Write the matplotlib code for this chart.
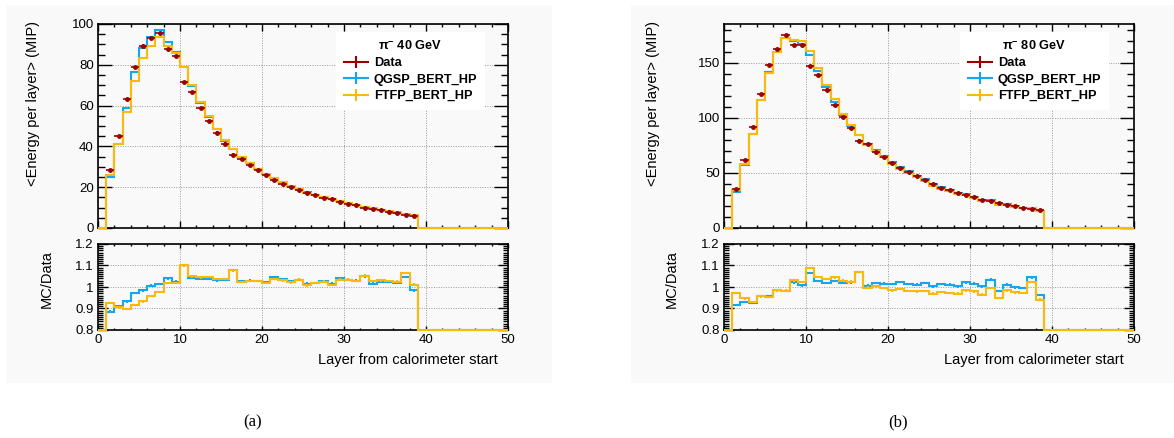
import numpy as np
import matplotlib
matplotlib.use('Agg')
import matplotlib.pyplot as plt
from matplotlib.lines import Line2D
from matplotlib.patches import Rectangle
from matplotlib.ticker import MultipleLocator, FuncFormatter

plt.rcParams['font.family'] = ['Liberation Sans', 'DejaVu Sans']

W, H = 1174, 438

# layers 1..38 are filled, everything else is empty
first_layer = 1
n_bins = 50

data_40 = [28.3, 45.2, 63.2, 78.7, 89.4, 93.0, 95.7, 87.6, 84.3, 71.7,
           66.8, 58.9, 52.4, 46.8, 41.4, 36.0, 34.0, 30.9, 28.3, 25.9,
           23.4, 21.8, 20.1, 18.5, 17.3, 16.0, 14.9, 14.1, 12.9, 11.9,
           11.1, 10.0, 9.3, 8.7, 8.0, 7.4, 6.5, 6.1]
qgsp_40 = [25.1, 41.2, 59.0, 76.5, 88.0, 93.6, 97.0, 91.1, 86.4, 78.9,
           69.6, 61.1, 54.3, 48.3, 42.8, 38.8, 34.9, 31.8, 29.1, 26.5,
           24.5, 22.6, 20.6, 19.1, 17.6, 16.3, 15.3, 14.3, 13.4, 12.3,
           11.4, 10.5, 9.4, 8.9, 8.2, 7.5, 6.8, 6.0]
ftfp_40 = [26.2, 41.0, 56.7, 72.2, 83.4, 89.2, 93.5, 89.3, 85.9, 78.9,
           70.1, 61.6, 54.9, 48.5, 42.9, 38.8, 34.8, 31.7, 29.1, 26.4,
           24.3, 22.5, 20.5, 19.1, 17.4, 16.3, 15.3, 14.2, 13.3, 12.3,
           11.4, 10.5, 9.6, 9.0, 8.2, 7.6, 6.9, 6.2]
ratio_qgsp_40 = [0.886, 0.912, 0.933, 0.972, 0.984, 1.006, 1.014, 1.040, 1.025, 1.100,
                 1.042, 1.037, 1.037, 1.031, 1.034, 1.078, 1.027, 1.030, 1.027, 1.022,
                 1.047, 1.037, 1.027, 1.034, 1.016, 1.019, 1.028, 1.016, 1.042, 1.034,
                 1.030, 1.050, 1.016, 1.025, 1.023, 1.019, 1.047, 0.984]
ratio_ftfp_40 = [0.925, 0.906, 0.897, 0.917, 0.933, 0.959, 0.977, 1.019, 1.019, 1.100,
                 1.050, 1.045, 1.047, 1.037, 1.037, 1.078, 1.023, 1.027, 1.027, 1.019,
                 1.037, 1.031, 1.022, 1.034, 1.008, 1.019, 1.025, 1.009, 1.034, 1.034,
                 1.027, 1.053, 1.027, 1.031, 1.027, 1.025, 1.066, 1.011]

data_80 = [35.4, 61.5, 91.8, 121.5, 147.9, 162.3, 174.9, 165.6, 165.6, 147.0,
           138.3, 125.4, 111.6, 100.8, 90.9, 79.2, 75.9, 69.3, 64.5, 58.8,
           54.3, 51.0, 46.8, 43.5, 39.6, 36.3, 34.5, 31.5, 30.0, 27.9,
           25.5, 24.3, 22.5, 21.3, 19.8, 18.3, 17.4, 15.9]
qgsp_80 = [32.5, 57.2, 84.9, 116.5, 141.8, 159.7, 171.9, 169.2, 166.9, 156.7,
           142.0, 127.8, 114.6, 102.7, 92.9, 84.7, 76.4, 70.6, 65.5, 59.6,
           55.5, 51.7, 47.3, 44.3, 39.7, 36.8, 34.9, 31.6, 30.7, 28.3,
           25.6, 25.1, 22.1, 21.5, 19.8, 18.2, 18.2, 15.3]
ftfp_80 = [34.4, 58.2, 85.4, 116.2, 141.0, 159.7, 171.9, 170.7, 169.4, 160.1,
           144.8, 130.0, 116.6, 103.8, 93.2, 84.7, 75.7, 69.5, 64.2, 57.9,
           53.8, 50.0, 45.9, 42.7, 38.4, 35.5, 33.5, 30.5, 29.5, 27.3,
           24.6, 24.2, 21.3, 21.0, 19.3, 17.8, 17.8, 15.0]
ratio_qgsp_80 = [0.917, 0.930, 0.925, 0.959, 0.959, 0.984, 0.983, 1.022, 1.008, 1.066,
                 1.027, 1.019, 1.027, 1.019, 1.022, 1.069, 1.006, 1.019, 1.016, 1.014,
                 1.023, 1.014, 1.011, 1.019, 1.003, 1.014, 1.011, 1.003, 1.022, 1.016,
                 1.003, 1.034, 0.981, 1.011, 0.998, 0.995, 1.045, 0.962]
ratio_ftfp_80 = [0.972, 0.947, 0.930, 0.956, 0.953, 0.984, 0.983, 1.031, 1.023, 1.089,
                 1.047, 1.037, 1.045, 1.030, 1.025, 1.069, 0.997, 1.003, 0.995, 0.984,
                 0.991, 0.981, 0.980, 0.981, 0.969, 0.977, 0.972, 0.969, 0.984, 0.980,
                 0.964, 0.995, 0.948, 0.984, 0.975, 0.972, 1.023, 0.941]

C_DATA = '#990000'
C_QGSP = '#13a6f2'
C_FTFP = '#fbb90a'
BG = '#f9f9f9'


def fx(x):
    return x / W


def fy(y):
    return 1 - y / H


def full_hist(vals):
    h = np.zeros(n_bins)
    h[first_layer:first_layer + len(vals)] = vals
    return h


def style_axes(ax, xmaj, ymaj, ymin, ylen, xlen):
    ax.set_facecolor(BG)
    ax.xaxis.set_major_locator(MultipleLocator(xmaj))
    ax.xaxis.set_minor_locator(MultipleLocator(2))
    ax.yaxis.set_major_locator(MultipleLocator(ymaj))
    ax.yaxis.set_minor_locator(MultipleLocator(ymin))
    ax.tick_params(which='both', direction='in', top=True, right=True,
                   labelsize=9.5, width=1.0, colors='black', pad=3)
    ax.tick_params(axis='y', which='major', length=ylen)
    ax.tick_params(axis='y', which='minor', length=ylen / 2)
    ax.tick_params(axis='x', which='major', length=xlen)
    ax.tick_params(axis='x', which='minor', length=xlen / 2)
    ax.grid(True, which='major', ls=(0, (1, 1.5)), color='#9a9a9a', lw=0.7)
    ax.set_axisbelow(True)
    for s in ax.spines.values():
        s.set_linewidth(1.2)


def draw_panel(fig, pad_px, data, qgsp, ftfp, r_qgsp, r_ftfp, ymax, ymaj, ymin,
               title, leg_right_px, ylab_px, rlab_px, xlab_right_px, caption, cap_px):
    # background pad, drawn behind the axes
    bg = Rectangle((fx(pad_px[0]), fy(383)), fx(pad_px[1] - pad_px[0]), 378 / H,
                   transform=fig.transFigure, facecolor=BG, edgecolor='none', zorder=-10)
    fig.add_artist(bg)
    x0 = pad_px[2]
    ax = fig.add_axes([fx(x0), fy(228), fx(410), 204 / H])
    rax = fig.add_axes([fx(x0), fy(330), fx(410), 86 / H])

    edges = np.arange(n_bins + 1)
    centers = edges[:-1] + 0.5
    layers = centers[first_layer:first_layer + len(data)]

    ax.stairs(full_hist(qgsp), edges, baseline=None, color=C_QGSP, lw=1.5, zorder=3, clip_on=False)
    ax.stairs(full_hist(ftfp), edges, baseline=None, color=C_FTFP, lw=1.5, zorder=3.1, clip_on=False)
    ax.errorbar(layers, data, xerr=0.5, yerr=ymax * 0.006, fmt='o', ms=2.5,
                color=C_DATA, elinewidth=1.2, capsize=0, zorder=4)
    ax.set_xlim(0, n_bins)
    ax.set_ylim(0, ymax)
    style_axes(ax, 10, ymaj, ymin, 10, 5)
    ax.tick_params(labelbottom=False)

    handles = [Line2D([], [], color=c, lw=1.5, marker='|', ms=8, mew=1.5)
               for c in (C_DATA, C_QGSP, C_FTFP)]
    leg = ax.legend(handles, ['Data', 'QGSP_BERT_HP', 'FTFP_BERT_HP'],
                    title=title, loc='upper right',
                    bbox_to_anchor=(fx(leg_right_px), fy(32)), bbox_transform=fig.transFigure,
                    prop={'weight': 'bold', 'size': 9.2}, title_fontproperties={'weight': 'bold', 'size': 9.2},
                    frameon=True, fancybox=False, framealpha=1, edgecolor='white',
                    handlelength=1.9, handletextpad=0.45, labelspacing=0.35,
                    borderpad=0.6, borderaxespad=0)
    leg.get_frame().set_linewidth(0)

    lo = 0.8
    rax.stairs(np.maximum(full_hist(r_qgsp), lo), edges, baseline=None, color=C_QGSP, lw=1.5,
               zorder=3, clip_on=False)
    rax.stairs(np.maximum(full_hist(r_ftfp), lo), edges, baseline=None, color=C_FTFP, lw=1.5,
               zorder=3.1, clip_on=False)
    rax.errorbar(layers, r_qgsp, yerr=0.006, fmt='none', ecolor=C_QGSP, elinewidth=1.5, zorder=3.2)
    rax.errorbar(layers, r_ftfp, yerr=0.006, fmt='none', ecolor=C_FTFP, elinewidth=1.5, zorder=3.3)
    rax.set_xlim(0, n_bins)
    rax.set_ylim(lo, 1.2)
    style_axes(rax, 10, 0.1, 0.01, 7, 3)
    rax.yaxis.set_major_formatter(FuncFormatter(lambda v, p: '%g' % round(v, 2)))

    # ROOT puts axis titles at the top end of the axis
    fig.text(fx(ylab_px), fy(104), '<Energy per layer> (MIP)', rotation=90,
             ha='center', va='center', fontsize=10.5)
    fig.text(fx(rlab_px), fy(279), 'MC/Data', rotation=90,
             ha='center', va='center', fontsize=10.5)
    fig.text(fx(xlab_right_px), fy(360), 'Layer from calorimeter start',
             ha='right', va='center', fontsize=10.5)
    fig.text(fx(cap_px), fy(422), caption, ha='center', va='center',
             fontsize=12, family='Liberation Serif')


fig = plt.figure(figsize=(W / 100, H / 100), dpi=100)

draw_panel(fig, (6, 552, 98), data_40, qgsp_40, ftfp_40, ratio_qgsp_40, ratio_ftfp_40,
           100, 20, 5, r'π$^{\mathregular{-}}$ 40 GeV', 485, 33, 47, 498, '(a)', 253)
draw_panel(fig, (631, 1174, 724), data_80, qgsp_80, ftfp_80, ratio_qgsp_80, ratio_ftfp_80,
           185, 50, 10, r'π$^{\mathregular{-}}$ 80 GeV', 1109, 653, 672, 1124, '(b)', 898)

fig.savefig('out.png', dpi=100)
plt.close(fig)
